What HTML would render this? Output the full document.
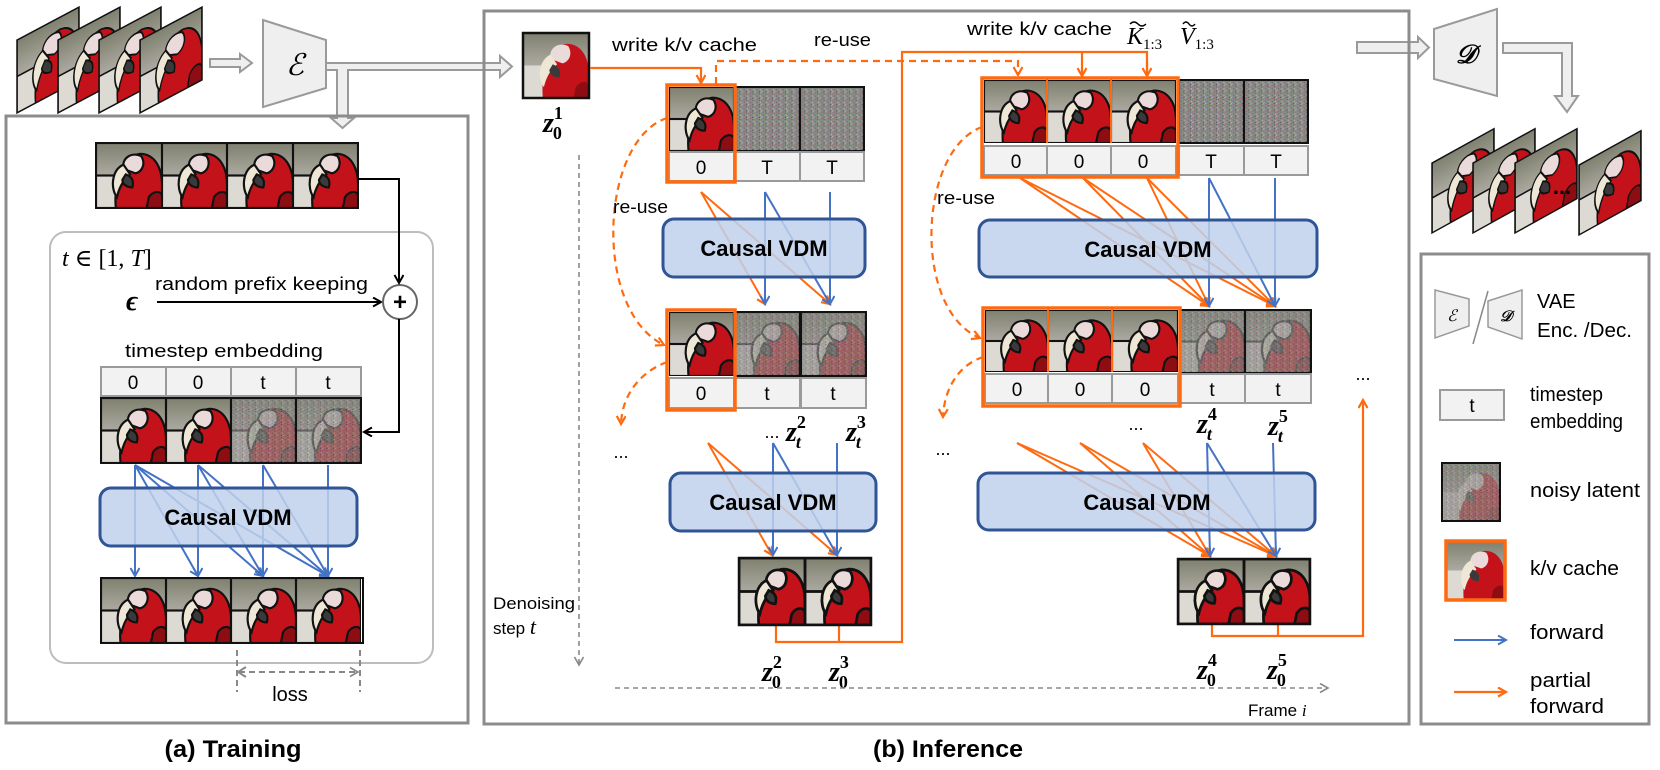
<!DOCTYPE html>
<html><head><meta charset="utf-8"><style>
html,body{margin:0;padding:0;background:#fff;}
svg{display:block;}
text{font-family:"Liberation Sans",sans-serif;fill:#000;}
.s{font-family:"Liberation Serif","DejaVu Serif",serif;}
</style></head><body>
<svg width="1660" height="770" viewBox="0 0 1660 770" xmlns="http://www.w3.org/2000/svg">
<defs>
<linearGradient id="bg" x1="0" y1="0" x2="0" y2="1"><stop offset="0" stop-color="#7f806f"/><stop offset="0.45" stop-color="#a8a69c"/><stop offset="1" stop-color="#c9c7c0"/></linearGradient>
<symbol id="par" viewBox="0 0 60 60" preserveAspectRatio="none">
<rect width="60" height="60" fill="url(#bg)"/>
<rect x="0" y="30" width="22" height="30" fill="#dcdad3"/>
<path d="M18 60 C16 36 24 12 40 10 C54 10 60 24 60 38 L60 60Z" fill="#c4121a"/>
<path d="M48 50 C52 44 58 44 60 48 L60 60 L46 60Z" fill="#8e0d12"/>
<path d="M25 24 C23 14 32 8 41 12 C45 18 43 26 36 28Z" fill="#eadada"/>
<path d="M25 20 C14 25 13 42 19 50 C21 41 25 34 31 29Z" fill="#eee7d6"/>
<path d="M27 29 C32 31 35 34 33 41 C28 41 24 38 24 34Z" fill="#3a3a3a"/>
</symbol>
<pattern id="nz" width="6" height="6" patternUnits="userSpaceOnUse">
<rect width="6" height="6" fill="#8a8a86"/>
<rect x="0" y="0" width="1" height="1" fill="#b36a8a"/><rect x="3" y="1" width="1" height="1" fill="#6aa66e"/>
<rect x="1" y="3" width="1" height="1" fill="#9090c8"/><rect x="4" y="4" width="1" height="1" fill="#4c4c4c"/>
<rect x="5" y="2" width="1" height="1" fill="#c8b8a8"/><rect x="2" y="5" width="1" height="1" fill="#a85a60"/>
<rect x="4" y="0" width="1" height="1" fill="#5a5a80"/><rect x="0" y="4" width="1" height="1" fill="#bcbcbc"/>
<rect x="2" y="2" width="1" height="1" fill="#666"/><rect x="5" y="5" width="1" height="1" fill="#8fb08a"/>
</pattern>
<symbol id="noi" viewBox="0 0 60 60" preserveAspectRatio="none"><rect width="60" height="60" fill="url(#nz)"/></symbol>
<symbol id="npar" viewBox="0 0 60 60" preserveAspectRatio="none"><use href="#par" width="60" height="60"/><rect width="60" height="60" fill="url(#nz)" opacity="0.7"/></symbol>
<marker id="ab" markerWidth="12" markerHeight="12" refX="9" refY="5" orient="auto" markerUnits="userSpaceOnUse"><path d="M1,0.5 L9,5 L1,9.5" fill="none" stroke="#4472c4" stroke-width="2"/></marker>
<marker id="ao" markerWidth="12" markerHeight="12" refX="9" refY="5" orient="auto" markerUnits="userSpaceOnUse"><path d="M1,0.5 L9,5 L1,9.5" fill="none" stroke="#ff6a10" stroke-width="2.2"/></marker>
<marker id="ak" markerWidth="12" markerHeight="12" refX="9" refY="5" orient="auto" markerUnits="userSpaceOnUse"><path d="M1,0.5 L9,5 L1,9.5" fill="none" stroke="#000" stroke-width="2"/></marker>
<marker id="ag" markerWidth="12" markerHeight="12" refX="9" refY="5" orient="auto" markerUnits="userSpaceOnUse"><path d="M1,0.5 L9,5 L1,9.5" fill="none" stroke="#888" stroke-width="1.6"/></marker>
</defs>

<g stroke="#111" stroke-width="1.5">
<g transform="translate(17,40) skewY(-28)"><use href="#par" width="62" height="73"/><rect width="62" height="73" fill="none"/></g>
<g transform="translate(58,40) skewY(-28)"><use href="#par" width="62" height="73"/><rect width="62" height="73" fill="none"/></g>
<g transform="translate(99,40) skewY(-28)"><use href="#par" width="62" height="73"/><rect width="62" height="73" fill="none"/></g>
<g transform="translate(140,40) skewY(-28)"><use href="#par" width="62" height="73"/><rect width="62" height="73" fill="none"/></g>
</g>
<g fill="#efefef" stroke="#9a9a9a" stroke-width="2">
<polygon points="210,59 240,59 240,54 252,63 240,72 240,67 210,67"/>
<polygon points="263,20 326,40 326,88 263,107"/>
<polygon points="326,63 500,63 500,56 512,66.5 500,77 500,70 348,70 348,118 354,118 342.5,128 331,118 337,118 337,70 326,70"/>
<polygon points="1357,42 1418,42 1418,37 1429,47.5 1418,58 1418,53 1357,53"/>
<polygon points="1434,29 1497,9 1497,96 1434,79"/>
<polygon points="1503,43 1572,43 1572,96 1578,96 1567,112 1555,96 1562,96 1562,53 1503,53"/>
</g>
<text x="295" y="75" class="s" font-size="30" font-style="italic" text-anchor="middle">ℰ</text>
<text x="1466" y="63" class="s" font-size="26" font-style="italic" font-weight="bold" text-anchor="middle">𝒟</text>

<g fill="none" stroke="#8c8c8c" stroke-width="3">
<rect x="6" y="116" width="462" height="607"/>
<rect x="484" y="11" width="925" height="713"/>
<rect x="1421" y="254" width="228" height="470"/>
</g>
<text x="233" y="757" font-size="24" font-weight="bold" text-anchor="middle" textLength="137" lengthAdjust="spacingAndGlyphs">(a) Training</text>
<text x="948" y="757" font-size="24" font-weight="bold" text-anchor="middle" textLength="150" lengthAdjust="spacingAndGlyphs">(b) Inference</text>

<!-- TRAINING -->
<g stroke="#111" stroke-width="2">
<use href="#par" x="96" y="143" width="66" height="65"/><use href="#par" x="162" y="143" width="65" height="65"/>
<use href="#par" x="227" y="143" width="66" height="65"/><use href="#par" x="293" y="143" width="65" height="65"/>
<rect x="96" y="143" width="262" height="65" fill="none"/>
</g>
<rect x="50" y="232" width="383" height="431" rx="16" fill="none" stroke="#bdbdbd" stroke-width="2"/>
<text x="62" y="266" class="s" font-size="24" font-style="italic">t <tspan font-style="normal">∈ [1,</tspan> T<tspan font-style="normal">]</tspan></text>
<text x="132" y="310" class="s" font-size="28" font-weight="bold" font-style="italic" text-anchor="middle">ϵ</text>
<text x="155" y="290" font-size="18" textLength="213" lengthAdjust="spacingAndGlyphs">random prefix keeping</text>
<line x1="157" y1="302" x2="381" y2="302" stroke="#000" stroke-width="2" marker-end="url(#ak)"/>
<circle cx="400" cy="302" r="17" fill="#fff" stroke="#666" stroke-width="2"/>
<text x="400" y="310" font-size="24" font-weight="bold" text-anchor="middle">+</text>
<polyline points="358,179 399,179 399,283" fill="none" stroke="#000" stroke-width="2" marker-end="url(#ak)"/>
<polyline points="399,319 399,432 364,432" fill="none" stroke="#000" stroke-width="2" marker-end="url(#ak)"/>
<text x="125" y="357" font-size="18" textLength="198" lengthAdjust="spacingAndGlyphs">timestep embedding</text>
<g fill="#f2f2f2" stroke="#9a9a9a" stroke-width="2">
<rect x="101" y="367" width="65" height="29"/><rect x="166" y="367" width="65" height="29"/><rect x="231" y="367" width="65" height="29"/><rect x="296" y="367" width="65" height="29"/>
</g>
<g font-size="19" text-anchor="middle"><text x="133" y="389">0</text><text x="198" y="389">0</text><text x="263" y="389">t</text><text x="328" y="389">t</text></g>
<g stroke="#111" stroke-width="2">
<use href="#par" x="101" y="398" width="65" height="65"/><use href="#par" x="166" y="398" width="65" height="65"/>
<use href="#npar" x="231" y="398" width="65" height="65"/><use href="#npar" x="296" y="398" width="65" height="65"/>
<rect x="101" y="398" width="260" height="65" fill="none"/>
<line x1="166" y1="398" x2="166" y2="463"/><line x1="231" y1="398" x2="231" y2="463"/><line x1="296" y1="398" x2="296" y2="463"/>
</g>
<g stroke="#4472c4" stroke-width="2" marker-end="url(#ab)">
<line x1="135" y1="465" x2="135" y2="576"/><line x1="135" y1="465" x2="198" y2="576"/><line x1="135" y1="465" x2="263" y2="576"/><line x1="135" y1="465" x2="328" y2="576"/>
<line x1="198" y1="465" x2="198" y2="576"/><line x1="198" y1="465" x2="263" y2="576"/><line x1="198" y1="465" x2="328" y2="576"/>
<line x1="263" y1="465" x2="263" y2="576"/><line x1="263" y1="465" x2="328" y2="576"/>
<line x1="328" y1="465" x2="328" y2="576"/>
</g>
<rect x="100" y="488" width="257" height="58" rx="11" fill="#c0d1ec" fill-opacity="0.85" stroke="#2f5597" stroke-width="3"/>
<text x="228" y="525" font-size="22" font-weight="bold" text-anchor="middle">Causal VDM</text>
<g stroke="#111" stroke-width="2">
<use href="#par" x="101" y="578" width="65" height="65"/><use href="#par" x="166" y="578" width="65" height="65"/>
<use href="#par" x="231" y="578" width="65" height="65"/><use href="#par" x="296" y="578" width="65" height="65"/>
<rect x="101" y="578" width="262" height="65" fill="none"/>
<line x1="166" y1="578" x2="166" y2="643"/><line x1="231" y1="578" x2="231" y2="643"/><line x1="296" y1="578" x2="296" y2="643"/>
</g>
<g stroke="#888" stroke-width="2" stroke-dasharray="6,4" fill="none">
<line x1="237" y1="650" x2="237" y2="692"/><line x1="360" y1="650" x2="360" y2="692"/>
<line x1="239" y1="672" x2="358" y2="672" marker-end="url(#ag)"/>
</g>
<path d="M246,667 L238,672 L246,677" fill="none" stroke="#888" stroke-width="2"/>
<text x="290" y="701" font-size="20" text-anchor="middle">loss</text>

<!-- INFERENCE -->
<use href="#par" x="523" y="33" width="66" height="65"/><rect x="523" y="33" width="66" height="65" fill="none" stroke="#111" stroke-width="2.5"/>
<text x="543" y="132" class="s" font-size="28" font-weight="bold" font-style="italic">z<tspan font-size="18" font-style="normal" dy="-13">1</tspan><tspan font-size="18" font-style="normal" dx="-10" dy="20">0</tspan></text>
<text x="612" y="51" font-size="18" textLength="145" lengthAdjust="spacingAndGlyphs">write k/v cache</text>
<text x="814" y="46" font-size="18" textLength="57" lengthAdjust="spacingAndGlyphs">re-use</text>
<text x="967" y="35" font-size="18" textLength="145" lengthAdjust="spacingAndGlyphs">write k/v cache</text>
<text x="1127" y="44" class="s" font-size="24" font-style="italic">K<tspan font-size="15" font-style="normal" dy="5">1:3</tspan></text>
<text x="1180" y="44" class="s" font-size="24" font-style="italic">V<tspan font-size="15" font-style="normal" dy="5">1:3</tspan></text>
<path d="M1130,24 q4,-4 8,0 t8,0" fill="none" stroke="#000" stroke-width="1.4"/>
<path d="M1183,24 q3,-4 6,0 t6,0" fill="none" stroke="#000" stroke-width="1.4"/>

<g fill="none" stroke="#ff6a10" stroke-width="2.2">
<polyline points="590,68 701,68 701,83" marker-end="url(#ao)"/>
<polyline points="776,625 776,642 902,642 902,52 1147,52 1147,75" />
<line x1="1147" y1="60" x2="1147" y2="76" marker-end="url(#ao)"/>
<line x1="1082" y1="52" x2="1082" y2="76" marker-end="url(#ao)"/>
<line x1="839" y1="625" x2="839" y2="642"/>
<polyline points="1212,624 1212,636 1363,636 1363,400" marker-end="url(#ao)"/>
<line x1="1278" y1="624" x2="1278" y2="636"/>
</g>
<g fill="none" stroke="#ff6a10" stroke-width="2.2" stroke-dasharray="7,5">
<polyline points="716,84 716,61 1018,61 1018,75" marker-end="url(#ao)"/>
<path d="M667,118 C600,140 592,310 664,345" marker-end="url(#ao)"/>
<path d="M667,362 C640,372 622,395 621,424" marker-end="url(#ao)"/>
<path d="M982,127 C918,150 912,310 980,338" marker-end="url(#ao)"/>
<path d="M983,357 C956,366 944,392 943,417" marker-end="url(#ao)"/>
</g>
<text x="1363" y="380" font-size="18" text-anchor="middle">...</text>

<g stroke="#111" stroke-width="2">
<use href="#par" x="669" y="87" width="65" height="64"/>
<use href="#noi" x="735" y="87" width="65" height="64"/><use href="#noi" x="800" y="87" width="64" height="64"/>
<rect x="735" y="87" width="129" height="64" fill="none"/><line x1="800" y1="87" x2="800" y2="151"/>
</g>
<g fill="#f2f2f2" stroke="#9a9a9a" stroke-width="2">
<rect x="669" y="152" width="65" height="29"/><rect x="735" y="152" width="65" height="29"/><rect x="800" y="152" width="64" height="29"/>
</g>
<rect x="667" y="85" width="68" height="97" fill="none" stroke="#ff6a10" stroke-width="3.5"/>
<g font-size="19" text-anchor="middle"><text x="701" y="174">0</text><text x="767" y="174">T</text><text x="832" y="174">T</text></g>
<text x="613" y="213" font-size="18" textLength="55" lengthAdjust="spacingAndGlyphs">re-use</text>
<g stroke-width="2" fill="none">
<line x1="701" y1="192" x2="765" y2="304" stroke="#ff6a10" marker-end="url(#ao)"/><line x1="701" y1="192" x2="830" y2="304" stroke="#ff6a10" marker-end="url(#ao)"/>
<line x1="765" y1="192" x2="765" y2="304" stroke="#4472c4" marker-end="url(#ab)"/><line x1="765" y1="192" x2="830" y2="304" stroke="#4472c4" marker-end="url(#ab)"/><line x1="830" y1="192" x2="830" y2="304" stroke="#4472c4" marker-end="url(#ab)"/>
</g>
<rect x="663" y="219" width="202" height="58" rx="11" fill="#c0d1ec" fill-opacity="0.85" stroke="#2f5597" stroke-width="3"/>
<text x="764" y="256" font-size="22" font-weight="bold" text-anchor="middle">Causal VDM</text>

<g stroke="#111" stroke-width="2">
<use href="#par" x="669" y="312" width="65" height="64"/>
<use href="#npar" x="735" y="312" width="65" height="64"/><use href="#npar" x="801" y="312" width="65" height="64"/>
<rect x="735" y="312" width="131" height="64" fill="none"/><line x1="801" y1="312" x2="801" y2="376"/>
</g>
<g fill="#f2f2f2" stroke="#9a9a9a" stroke-width="2">
<rect x="669" y="378" width="65" height="30"/><rect x="735" y="378" width="65" height="30"/><rect x="801" y="378" width="65" height="30"/>
</g>
<rect x="667" y="310" width="68" height="100" fill="none" stroke="#ff6a10" stroke-width="3.5"/>
<g font-size="19" text-anchor="middle"><text x="701" y="400">0</text><text x="767" y="400">t</text><text x="833" y="400">t</text></g>
<text x="621" y="458" font-size="18" text-anchor="middle">...</text>
<text x="772" y="438" font-size="18" text-anchor="middle">...</text>
<text x="786" y="441" class="s" font-size="28" font-weight="bold" font-style="italic">z<tspan font-size="18" font-style="normal" dy="-13">2</tspan><tspan font-size="18" dx="-10" dy="20">t</tspan></text>
<text x="846" y="441" class="s" font-size="28" font-weight="bold" font-style="italic">z<tspan font-size="18" font-style="normal" dy="-13">3</tspan><tspan font-size="18" dx="-10" dy="20">t</tspan></text>
<g stroke-width="2" fill="none">
<line x1="708" y1="443" x2="772" y2="555" stroke="#ff6a10" marker-end="url(#ao)"/><line x1="708" y1="443" x2="837" y2="555" stroke="#ff6a10" marker-end="url(#ao)"/>
<line x1="773" y1="443" x2="773" y2="555" stroke="#4472c4" marker-end="url(#ab)"/><line x1="773" y1="443" x2="837" y2="555" stroke="#4472c4" marker-end="url(#ab)"/><line x1="837" y1="443" x2="837" y2="555" stroke="#4472c4" marker-end="url(#ab)"/>
</g>
<rect x="670" y="473" width="206" height="58" rx="11" fill="#c0d1ec" fill-opacity="0.85" stroke="#2f5597" stroke-width="3"/>
<text x="773" y="510" font-size="22" font-weight="bold" text-anchor="middle">Causal VDM</text>
<g stroke="#111" stroke-width="2.5">
<use href="#par" x="739" y="558" width="66" height="67"/><use href="#par" x="805" y="558" width="66" height="67"/>
<rect x="739" y="558" width="132" height="67" fill="none"/><line x1="805" y1="558" x2="805" y2="625"/>
</g>
<text x="762" y="681" class="s" font-size="28" font-weight="bold" font-style="italic">z<tspan font-size="18" font-style="normal" dy="-13">2</tspan><tspan font-size="18" font-style="normal" dx="-10" dy="20">0</tspan></text>
<text x="829" y="681" class="s" font-size="28" font-weight="bold" font-style="italic">z<tspan font-size="18" font-style="normal" dy="-13">3</tspan><tspan font-size="18" font-style="normal" dx="-10" dy="20">0</tspan></text>

<line x1="579" y1="155" x2="579" y2="665" stroke="#888" stroke-width="1.6" stroke-dasharray="5,4" marker-end="url(#ag)"/>
<text x="493" y="609" font-size="17" textLength="82" lengthAdjust="spacingAndGlyphs">Denoising</text>
<text x="493" y="634" font-size="17">step <tspan class="s" font-style="italic" font-size="22">t</tspan></text>
<line x1="615" y1="688" x2="1328" y2="688" stroke="#888" stroke-width="1.6" stroke-dasharray="5,4" marker-end="url(#ag)"/>
<text x="1248" y="716" font-size="17">Frame <tspan class="s" font-style="italic">i</tspan></text>

<g stroke="#111" stroke-width="2">
<use href="#par" x="984" y="80" width="63" height="63"/><use href="#par" x="1047" y="80" width="64" height="63"/><use href="#par" x="1111" y="80" width="65" height="63"/>
<use href="#noi" x="1179" y="80" width="65" height="63"/><use href="#noi" x="1244" y="80" width="64" height="63"/>
<rect x="1179" y="80" width="129" height="63" fill="none"/><line x1="1244" y1="80" x2="1244" y2="143"/>
</g>
<g fill="#f2f2f2" stroke="#9a9a9a" stroke-width="2">
<rect x="984" y="146" width="63" height="29"/><rect x="1047" y="146" width="64" height="29"/><rect x="1111" y="146" width="65" height="29"/>
<rect x="1179" y="146" width="65" height="29"/><rect x="1244" y="146" width="64" height="29"/>
</g>
<rect x="982" y="78" width="196" height="99" fill="none" stroke="#ff6a10" stroke-width="3.5"/>
<line x1="1047" y1="78" x2="1047" y2="143" stroke="#ff6a10" stroke-width="2"/><line x1="1111" y1="78" x2="1111" y2="143" stroke="#ff6a10" stroke-width="2"/>
<g font-size="19" text-anchor="middle"><text x="1016" y="168">0</text><text x="1079" y="168">0</text><text x="1143" y="168">0</text><text x="1211" y="168">T</text><text x="1276" y="168">T</text></g>
<text x="937" y="204" font-size="18" textLength="58" lengthAdjust="spacingAndGlyphs">re-use</text>
<g stroke-width="2" fill="none">
<g stroke="#ff6a10" marker-end="url(#ao)">
<line x1="1020" y1="178" x2="1209" y2="306"/><line x1="1020" y1="178" x2="1275" y2="306"/>
<line x1="1083" y1="178" x2="1209" y2="306"/><line x1="1083" y1="178" x2="1275" y2="306"/>
<line x1="1147" y1="178" x2="1209" y2="306"/><line x1="1147" y1="178" x2="1275" y2="306"/>
</g>
<g stroke="#4472c4" marker-end="url(#ab)">
<line x1="1209" y1="178" x2="1209" y2="306"/><line x1="1209" y1="178" x2="1275" y2="306"/><line x1="1275" y1="178" x2="1275" y2="306"/>
</g>
</g>
<rect x="979" y="220" width="338" height="57" rx="11" fill="#c0d1ec" fill-opacity="0.85" stroke="#2f5597" stroke-width="3"/>
<text x="1148" y="257" font-size="22" font-weight="bold" text-anchor="middle">Causal VDM</text>

<g stroke="#111" stroke-width="2">
<use href="#par" x="985" y="310" width="63" height="62"/><use href="#par" x="1048" y="310" width="64" height="62"/><use href="#par" x="1112" y="310" width="66" height="62"/>
<use href="#npar" x="1180" y="310" width="65" height="63"/><use href="#npar" x="1245" y="310" width="66" height="63"/>
<rect x="1180" y="310" width="131" height="63" fill="none"/><line x1="1245" y1="310" x2="1245" y2="373"/>
</g>
<g fill="#f2f2f2" stroke="#9a9a9a" stroke-width="2">
<rect x="985" y="374" width="63" height="29"/><rect x="1048" y="374" width="64" height="29"/><rect x="1112" y="374" width="66" height="29"/>
<rect x="1180" y="374" width="65" height="29"/><rect x="1245" y="374" width="66" height="29"/>
</g>
<rect x="983" y="308" width="197" height="98" fill="none" stroke="#ff6a10" stroke-width="3.5"/>
<line x1="1048" y1="308" x2="1048" y2="372" stroke="#ff6a10" stroke-width="2"/><line x1="1112" y1="308" x2="1112" y2="372" stroke="#ff6a10" stroke-width="2"/>
<g font-size="19" text-anchor="middle"><text x="1017" y="396">0</text><text x="1080" y="396">0</text><text x="1145" y="396">0</text><text x="1212" y="396">t</text><text x="1278" y="396">t</text></g>
<text x="943" y="455" font-size="18" text-anchor="middle">...</text>
<text x="1136" y="430" font-size="18" text-anchor="middle">...</text>
<text x="1197" y="433" class="s" font-size="28" font-weight="bold" font-style="italic">z<tspan font-size="18" font-style="normal" dy="-13">4</tspan><tspan font-size="18" dx="-10" dy="20">t</tspan></text>
<text x="1268" y="435" class="s" font-size="28" font-weight="bold" font-style="italic">z<tspan font-size="18" font-style="normal" dy="-13">5</tspan><tspan font-size="18" dx="-10" dy="20">t</tspan></text>
<g stroke-width="2" fill="none">
<g stroke="#ff6a10" marker-end="url(#ao)">
<line x1="1017" y1="443" x2="1210" y2="556"/><line x1="1017" y1="443" x2="1276" y2="556"/>
<line x1="1080" y1="443" x2="1210" y2="556"/><line x1="1080" y1="443" x2="1276" y2="556"/>
<line x1="1143" y1="443" x2="1210" y2="556"/><line x1="1143" y1="443" x2="1276" y2="556"/>
</g>
<g stroke="#4472c4" marker-end="url(#ab)">
<line x1="1207" y1="443" x2="1210" y2="556"/><line x1="1207" y1="443" x2="1276" y2="556"/><line x1="1273" y1="443" x2="1276" y2="556"/>
</g>
</g>
<rect x="978" y="473" width="337" height="57" rx="11" fill="#c0d1ec" fill-opacity="0.85" stroke="#2f5597" stroke-width="3"/>
<text x="1147" y="510" font-size="22" font-weight="bold" text-anchor="middle">Causal VDM</text>
<g stroke="#111" stroke-width="2.5">
<use href="#par" x="1178" y="559" width="66" height="65"/><use href="#par" x="1244" y="559" width="66" height="65"/>
<rect x="1178" y="559" width="132" height="65" fill="none"/><line x1="1244" y1="559" x2="1244" y2="624"/>
</g>
<text x="1197" y="679" class="s" font-size="28" font-weight="bold" font-style="italic">z<tspan font-size="18" font-style="normal" dy="-13">4</tspan><tspan font-size="18" font-style="normal" dx="-10" dy="20">0</tspan></text>
<text x="1267" y="679" class="s" font-size="28" font-weight="bold" font-style="italic">z<tspan font-size="18" font-style="normal" dy="-13">5</tspan><tspan font-size="18" font-style="normal" dx="-10" dy="20">0</tspan></text>

<g stroke="#111" stroke-width="1.5">
<g transform="translate(1432,163) skewY(-29)"><use href="#par" width="62" height="70"/><rect width="62" height="70" fill="none"/></g>
<g transform="translate(1473,163) skewY(-29)"><use href="#par" width="62" height="70"/><rect width="62" height="70" fill="none"/></g>
<g transform="translate(1515,163) skewY(-29)"><use href="#par" width="62" height="70"/><rect width="62" height="70" fill="none"/></g>
<g transform="translate(1579,165) skewY(-29)"><use href="#par" width="62" height="70"/><rect width="62" height="70" fill="none"/></g>
</g>
<text x="1562" y="194" font-size="22" font-weight="bold" text-anchor="middle">...</text>

<g fill="#efefef" stroke="#9a9a9a" stroke-width="1.5">
<polygon points="1435,290 1469,299 1469,326 1435,338"/>
<polygon points="1488,301 1522,290 1522,339 1488,327"/>
</g>
<line x1="1473" y1="344" x2="1488" y2="291" stroke="#888" stroke-width="1.5"/>
<text x="1452" y="321" class="s" font-size="16" font-style="italic" text-anchor="middle">ℰ</text>
<text x="1506" y="321" class="s" font-size="15" font-style="italic" font-weight="bold" text-anchor="middle">𝒟</text>
<text x="1537" y="308" font-size="20">VAE</text>
<text x="1537" y="337" font-size="20" textLength="95" lengthAdjust="spacingAndGlyphs">Enc. /Dec.</text>
<rect x="1440" y="390" width="64" height="30" fill="#f2f2f2" stroke="#9a9a9a" stroke-width="2"/>
<text x="1472" y="412" font-size="19" text-anchor="middle">t</text>
<text x="1530" y="401" font-size="20" textLength="73" lengthAdjust="spacingAndGlyphs">timestep</text>
<text x="1530" y="428" font-size="20" textLength="93" lengthAdjust="spacingAndGlyphs">embedding</text>
<use href="#npar" x="1442" y="463" width="58" height="58"/><rect x="1442" y="463" width="58" height="58" fill="none" stroke="#111" stroke-width="2"/>
<text x="1530" y="497" font-size="20" textLength="110" lengthAdjust="spacingAndGlyphs">noisy latent</text>
<use href="#par" x="1446" y="541" width="59" height="59"/><rect x="1446" y="541" width="59" height="59" fill="none" stroke="#ff6a10" stroke-width="3.5"/>
<text x="1530" y="575" font-size="20" textLength="89" lengthAdjust="spacingAndGlyphs">k/v cache</text>
<line x1="1454" y1="640" x2="1506" y2="640" stroke="#4472c4" stroke-width="2" marker-end="url(#ab)"/>
<text x="1530" y="639" font-size="20" textLength="74" lengthAdjust="spacingAndGlyphs">forward</text>
<line x1="1454" y1="692" x2="1506" y2="692" stroke="#ff6a10" stroke-width="2.2" marker-end="url(#ao)"/>
<text x="1530" y="687" font-size="20" textLength="61" lengthAdjust="spacingAndGlyphs">partial</text>
<text x="1530" y="713" font-size="20" textLength="74" lengthAdjust="spacingAndGlyphs">forward</text>
</svg>
</body></html>
